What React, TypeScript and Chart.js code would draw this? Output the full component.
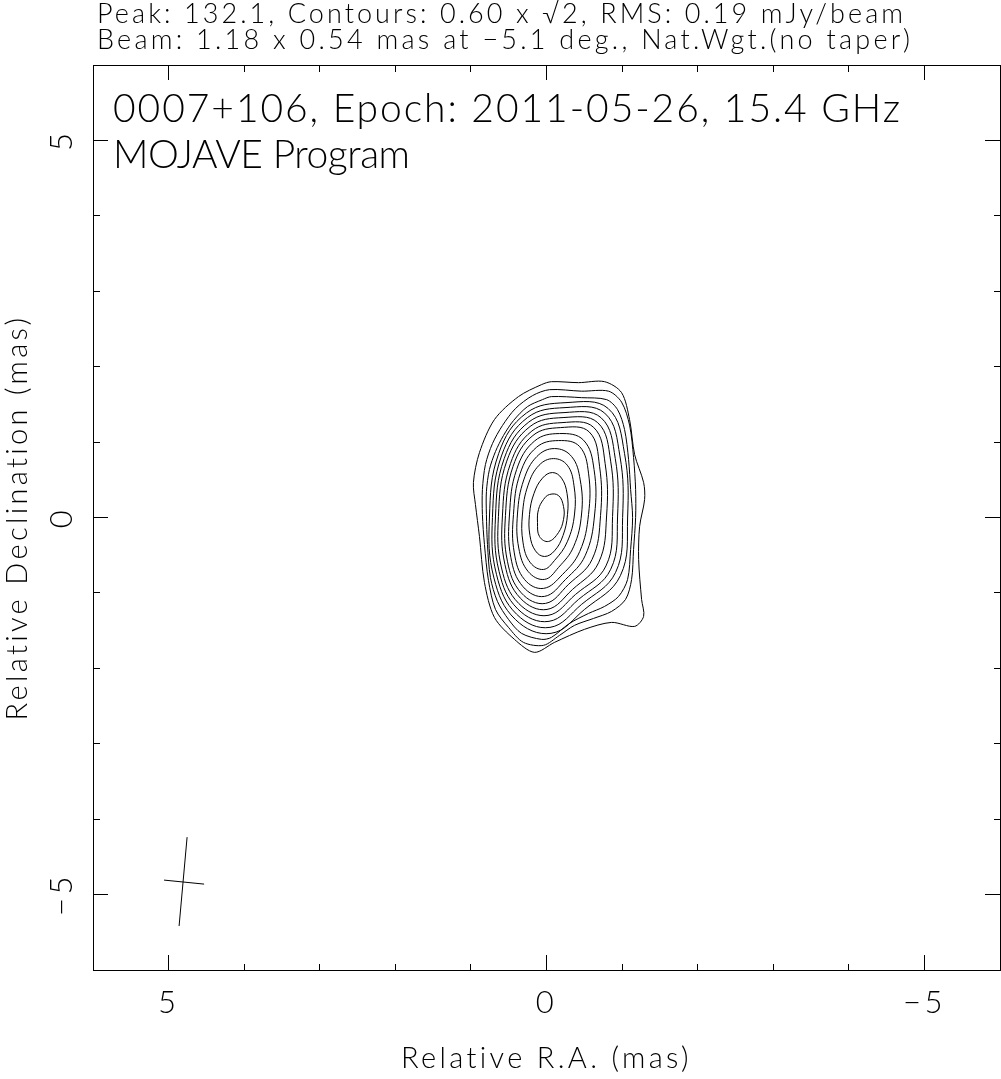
import React, { useEffect, useRef } from 'react';
import { Chart, registerables } from 'chart.js';

Chart.register(...registerables);

// ---------- data ----------
const TITLE_LINES = [
  'Peak: 132.1, Contours: 0.60 x √2, RMS: 0.19 mJy/beam',
  'Beam: 1.18 x 0.54 mas at −5.1 deg., Nat.Wgt.(no taper)',
];
const LABEL_LINES = ['0007+106, Epoch: 2011-05-26, 15.4 GHz', 'MOJAVE Program'];
const X_TITLE = 'Relative R.A. (mas)';
const Y_TITLE = 'Relative Declination (mas)';
const AXIS_MIN = -6;
const AXIS_MAX = 6;
const MINOR_TICKS = [-6, -5, -4, -3, -2, -1, 0, 1, 2, 3, 4, 5, 6];
const MAJOR_TICKS = [-5, 0, 5];

// contours (x = relative R.A. in mas, y = relative Dec. in mas), outermost first
const CONTOUR_01 = [[-0.066,1.801],[-0.424,1.788],[-0.768,1.801],[-0.993,1.656],[-1.099,1.298],[-1.166,0.834],[-1.285,0.464],[-1.298,0.238],[-1.232,-0.119],[-1.219,-0.556],[-1.258,-1.086],[-1.285,-1.311],[-1.166,-1.444],[-0.861,-1.391],[-0.503,-1.483],[-0.106,-1.656],[0.159,-1.788],[0.424,-1.616],[0.689,-1.325],[0.821,-0.861],[0.887,-0.252],[0.940,0.172],[0.967,0.464],[0.887,0.861],[0.689,1.298],[0.371,1.603],[0.066,1.762]];
const CONTOUR_02 = [[-0.040,1.695],[-0.464,1.675],[-0.821,1.675],[-0.993,1.530],[-1.099,1.225],[-1.152,0.795],[-1.179,0.371],[-1.179,0.000],[-1.152,-0.424],[-1.126,-0.821],[-1.046,-1.086],[-0.861,-1.245],[-0.623,-1.338],[-0.371,-1.430],[-0.172,-1.563],[0.040,-1.695],[0.305,-1.656],[0.503,-1.457],[0.675,-1.219],[0.768,-0.834],[0.821,-0.358],[0.848,0.040],[0.848,0.371],[0.808,0.702],[0.715,0.980],[0.583,1.219],[0.411,1.444],[0.185,1.616]];
const CONTOUR_03 = [[-0.066,1.603],[-0.464,1.589],[-0.795,1.563],[-0.940,1.430],[-1.033,1.166],[-1.086,0.768],[-1.113,0.371],[-1.139,0.000],[-1.113,-0.424],[-1.073,-0.821],[-0.954,-1.046],[-0.768,-1.179],[-0.556,-1.272],[-0.305,-1.404],[-0.066,-1.589],[0.066,-1.616],[0.331,-1.536],[0.503,-1.351],[0.649,-1.113],[0.742,-0.795],[0.781,-0.358],[0.795,0.040],[0.795,0.344],[0.755,0.636],[0.675,0.874],[0.570,1.086],[0.437,1.285],[0.252,1.470],[0.053,1.563]];
const CONTOUR_04 = [[-0.258,1.523],[-0.815,1.446],[-1.032,0.850],[-1.073,-0.007],[-0.977,-0.772],[-0.503,-1.219],[-0.060,-1.536],[0.412,-1.352],[0.695,-0.803],[0.755,-0.007],[0.632,0.850],[0.266,1.385]];
const CONTOUR_05 = [[-0.245,1.457],[-0.770,1.384],[-0.971,0.816],[-1.007,0.000],[-0.914,-0.728],[-0.464,-1.152],[-0.046,-1.457],[0.396,-1.282],[0.661,-0.758],[0.715,0.000],[0.596,0.816],[0.250,1.326]];
const CONTOUR_06 = [[-0.232,1.391],[-0.723,1.322],[-0.910,0.781],[-0.940,0.007],[-0.850,-0.686],[-0.424,-1.086],[-0.033,-1.377],[0.381,-1.212],[0.628,-0.713],[0.675,0.007],[0.560,0.781],[0.234,1.266]];
const CONTOUR_07 = [[-0.219,1.325],[-0.677,1.258],[-0.849,0.747],[-0.874,0.013],[-0.787,-0.642],[-0.384,-1.020],[-0.020,-1.298],[0.367,-1.140],[0.595,-0.669],[0.636,0.013],[0.526,0.747],[0.217,1.207]];
const CONTOUR_08 = [[-0.205,1.258],[-0.623,1.196],[-0.776,0.714],[-0.795,0.020],[-0.689,-0.600],[-0.344,-0.954],[-0.007,-1.219],[0.346,-1.070],[0.550,-0.624],[0.583,0.020],[0.477,0.714],[0.193,1.147]];
const CONTOUR_09 = [[-0.185,1.192],[-0.566,1.134],[-0.702,0.679],[-0.715,0.026],[-0.603,-0.556],[-0.291,-0.887],[0.013,-1.139],[0.334,-0.999],[0.517,-0.580],[0.543,0.026],[0.442,0.679],[0.180,1.087]];
const CONTOUR_10 = [[-0.172,1.113],[-0.489,1.026],[-0.629,0.637],[-0.636,0.033],[-0.511,-0.507],[-0.252,-0.821],[0.026,-1.046],[0.311,-0.917],[0.472,-0.528],[0.490,0.033],[0.395,0.637],[0.156,1.016]];
const CONTOUR_11 = [[-0.159,1.020],[-0.437,0.942],[-0.556,0.588],[-0.556,0.040],[-0.440,-0.450],[-0.212,-0.755],[0.040,-0.940],[0.290,-0.823],[0.426,-0.470],[0.437,0.040],[0.347,0.588],[0.132,0.931]];
const CONTOUR_12 = [[-0.106,0.914],[-0.332,0.809],[-0.446,0.498],[-0.464,0.046],[-0.358,-0.388],[-0.159,-0.662],[0.026,-0.821],[0.242,-0.717],[0.367,-0.405],[0.384,0.046],[0.301,0.498],[0.127,0.809]];
const CONTOUR_13 = [[-0.093,0.781],[-0.275,0.693],[-0.363,0.429],[-0.371,0.046],[-0.275,-0.322],[-0.106,-0.570],[0.040,-0.689],[0.213,-0.600],[0.310,-0.336],[0.318,0.046],[0.244,0.429],[0.098,0.693]];
const CONTOUR_14 = [[-0.079,0.596],[-0.199,0.522],[-0.272,0.318],[-0.278,0.040],[-0.219,-0.238],[-0.106,-0.442],[0.026,-0.517],[0.146,-0.442],[0.219,-0.238],[0.225,0.040],[0.166,0.318],[0.053,0.522]];
const CONTOUR_15 = [[-0.040,0.305],[-0.159,0.291],[-0.225,0.146],[-0.225,-0.026],[-0.159,-0.199],[-0.026,-0.318],[0.093,-0.252],[0.119,-0.066],[0.106,0.106],[0.040,0.238]];

const CONTOURS = [
  CONTOUR_01, CONTOUR_02, CONTOUR_03, CONTOUR_04, CONTOUR_05,
  CONTOUR_06, CONTOUR_07, CONTOUR_08, CONTOUR_09, CONTOUR_10,
  CONTOUR_11, CONTOUR_12, CONTOUR_13, CONTOUR_14, CONTOUR_15,
];

// restoring beam cross (major and minor axis ends)
const BEAM_MAJOR = [[4.755, -4.238], [4.861, -5.417]];
const BEAM_MINOR = [[5.060, -4.808], [4.530, -4.861]];

// ---------- styling ----------
const FONT_FAMILY = 'Lato, "DejaVu Sans", sans-serif';
const FONT_WEIGHT = '300';
const INK = '#000';

const fmtTick = (v: number) => (v < 0 ? '\u2212' + Math.abs(v) : String(v));

const closeLoops = {
  id: 'closeLoops',
  beforeDatasetDraw(chart: any, args: any) {
    const ds = chart.data.datasets[args.index];
    if (!ds || !ds.closed) return;
    const line = args.meta.dataset;
    if (line && !line._loop) {
      line._loop = true;
      line._fullLoop = true;
      line._pointsUpdated = false;
      line._segments = undefined;
      line._path = undefined;
    }
  },
};

const AXIS_TITLE_SIZE = 29;
const TICK_SIZE = 31;
const AXIS_TITLE_WIDTH = 288;

const axisSpacing = {
  id: 'axisSpacing',
  beforeDraw(chart: any) {
    const ctx = chart.ctx;
    ctx.save();
    ctx.letterSpacing = '0px';
    ctx.font = `${FONT_WEIGHT} ${AXIS_TITLE_SIZE}px ${FONT_FAMILY}`;
    const w0 = ctx.measureText(X_TITLE).width;
    ctx.restore();
    const sp = Math.max(0, (AXIS_TITLE_WIDTH - w0) / (X_TITLE.length - 1));
    ctx.letterSpacing = `${sp}px`;
  },
};

function drawFitted(ctx: any, text: string, x: number, y: number, size: number, width: number) {
  ctx.font = `${FONT_WEIGHT} ${size}px ${FONT_FAMILY}`;
  ctx.letterSpacing = '0px';
  const w0 = ctx.measureText(text).width;
  const n = Array.from(text).length;
  const sp = n > 1 ? (width - w0) / (n - 1) : 0;
  ctx.letterSpacing = `${sp}px`;
  ctx.fillText(text, x, y);
}

const annotations = {
  id: 'annotations',
  afterDraw(chart: any) {
    const { ctx, chartArea } = chart;
    ctx.save();
    ctx.fillStyle = INK;
    ctx.textAlign = 'left';
    ctx.textBaseline = 'alphabetic';
    const left = chartArea.left;
    const top = chartArea.top;
    drawFitted(ctx, TITLE_LINES[0], left + 4, top - 42, 27, 806);
    drawFitted(ctx, TITLE_LINES[1], left + 4, top - 16, 27, 813);
    drawFitted(ctx, LABEL_LINES[0], left + 20, top + 57, 39, 787);
    drawFitted(ctx, LABEL_LINES[1], left + 20, top + 103, 39, 297);
    ctx.restore();
  },
};

function tickDash(position: string) {
  // minor ticks are drawn as 7px dashes touching the frame; majors are full length
  const fromFrame = position === 'bottom' || position === 'right';
  return (c: any) => {
    const v = c.tick ? c.tick.value : 0;
    if (MAJOR_TICKS.includes(v)) return [];
    return fromFrame ? [7, 100] : [0, 8, 7, 100];
  };
}

const gridFor = (position: string) => ({
  drawOnChartArea: false,
  drawTicks: true,
  tickLength: -15,
  tickColor: INK,
  tickWidth: 1,
  tickBorderDash: tickDash(position),
});

const setTicks = (scale: any) => {
  scale.ticks = MINOR_TICKS.map((v) => ({ value: v }));
};

export default function App() {
  const canvasRef = useRef<HTMLCanvasElement | null>(null);

  useEffect(() => {
    const canvas = canvasRef.current;
    if (!canvas) return;

    const datasets: any[] = CONTOURS.map((c, i) => ({
      data: c.map(([x, y]) => ({ x, y })),
      borderColor: INK,
      borderWidth: 1,
      pointRadius: 0,
      fill: false,
      tension: i < 3 ? 0.3 : 0.4,
      closed: true,
    }));
    datasets.push({
      data: BEAM_MAJOR.map(([x, y]) => ({ x, y })),
      borderColor: INK, borderWidth: 1, pointRadius: 0, fill: false, tension: 0,
    });
    datasets.push({
      data: BEAM_MINOR.map(([x, y]) => ({ x, y })),
      borderColor: INK, borderWidth: 1, pointRadius: 0, fill: false, tension: 0,
    });

    const tickFont = { family: FONT_FAMILY, size: TICK_SIZE, weight: FONT_WEIGHT as any, lineHeight: 1.2 };
    const titleFont = { family: FONT_FAMILY, size: AXIS_TITLE_SIZE, weight: FONT_WEIGHT as any, lineHeight: 1 };
    const border = { display: true, color: INK, width: 1 };

    const chart = new Chart(canvas, {
      type: 'line',
      data: { datasets },
      options: {
        responsive: false,
        animation: false,
        devicePixelRatio: 1,
        events: [],
        layout: { padding: { top: 65, right: 1, left: 0, bottom: 0 } },
        plugins: {
          legend: { display: false },
          tooltip: { enabled: false },
          title: { display: false },
        },
        scales: {
          x: {
            type: 'linear', position: 'bottom', min: AXIS_MIN, max: AXIS_MAX, reverse: true,
            afterBuildTicks: setTicks,
            afterFit: (s: any) => { s.height = 109; },
            grid: gridFor('bottom'),
            border,
            ticks: {
              autoSkip: false, maxRotation: 0, minRotation: 0, padding: 29,
              color: INK, font: tickFont,
              callback: (v: any) => (MAJOR_TICKS.includes(Number(v)) ? fmtTick(Number(v)) : ''),
            },
            title: { display: true, text: X_TITLE, color: INK, font: titleFont, padding: { top: 0, bottom: 6 } },
          },
          x2: {
            type: 'linear', position: 'top', min: AXIS_MIN, max: AXIS_MAX, reverse: true,
            afterBuildTicks: setTicks,
            afterFit: (s: any) => { s.height = 0; },
            grid: gridFor('top'),
            border,
            ticks: { display: false, autoSkip: false },
          },
          y: {
            type: 'linear', position: 'left', min: AXIS_MIN, max: AXIS_MAX,
            afterBuildTicks: setTicks,
            afterFit: (s: any) => { s.width = 93; },
            grid: gridFor('left'),
            border,
            ticks: {
              autoSkip: false, minRotation: 90, maxRotation: 90, crossAlign: 'center', padding: 28,
              color: INK, font: tickFont,
              callback: (v: any) => (MAJOR_TICKS.includes(Number(v)) ? fmtTick(Number(v)) : ''),
            },
            title: { display: true, text: Y_TITLE, color: INK, font: titleFont, padding: { top: 3, bottom: 0 } },
          },
          y2: {
            type: 'linear', position: 'right', min: AXIS_MIN, max: AXIS_MAX,
            afterBuildTicks: setTicks,
            afterFit: (s: any) => { s.width = 0; },
            grid: gridFor('right'),
            border,
            ticks: { display: false, autoSkip: false },
          },
        },
      } as any,
      plugins: [closeLoops, axisSpacing, annotations],
    });

    return () => chart.destroy();
  }, []);

  return (
    <div style={{ position: 'absolute', left: 0, top: 0, width: 1001, height: 1079, background: '#fff' }}>
      <canvas ref={canvasRef} width={1001} height={1079} style={{ display: 'block' }} />
    </div>
  );
}
